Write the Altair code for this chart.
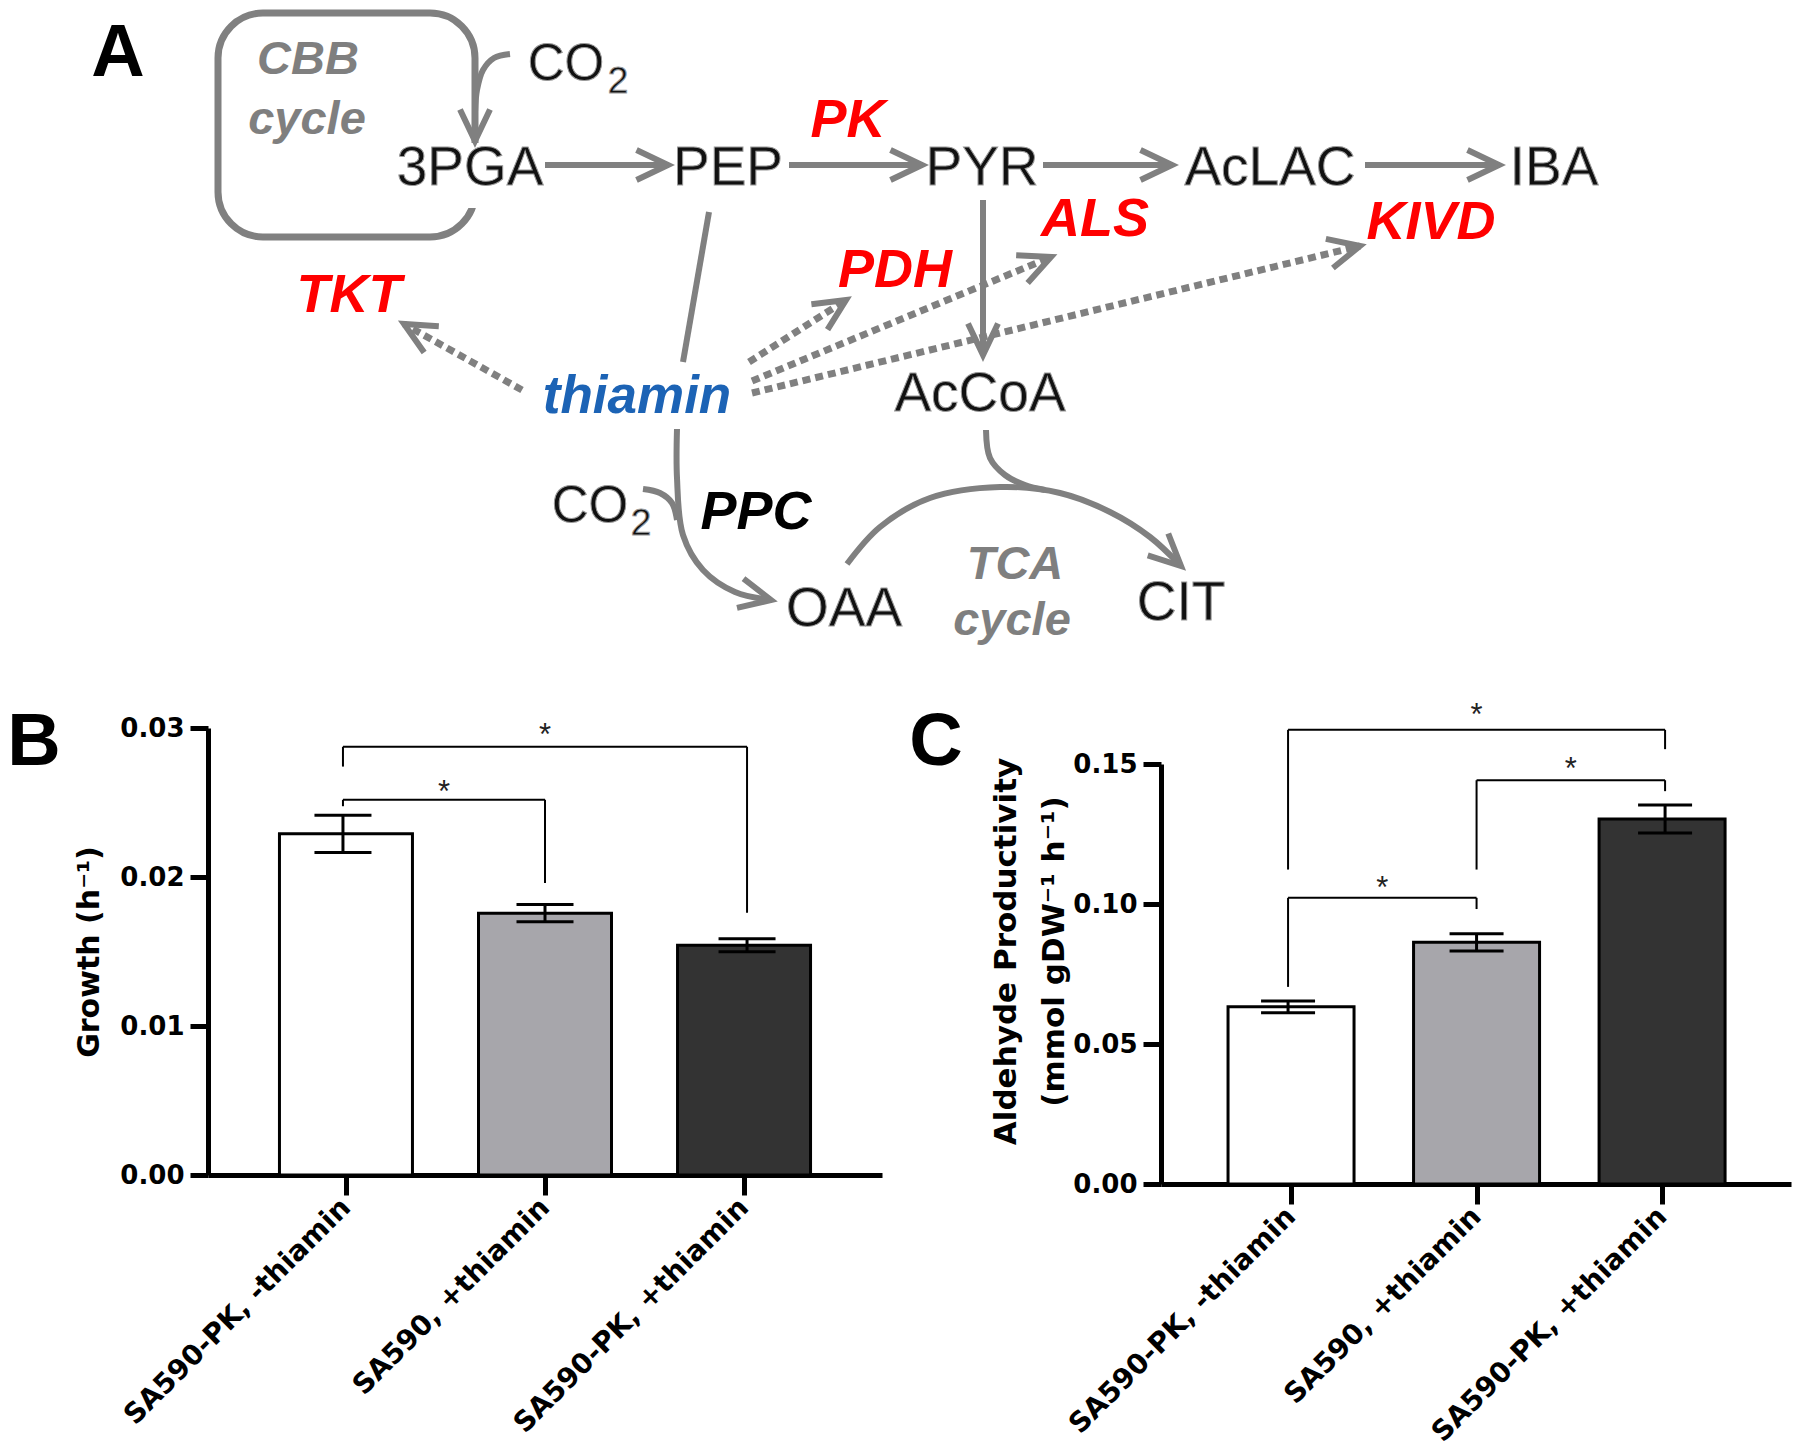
import json
import math
import altair as alt
import pandas as pd

W, H = 1784, 1440
GRAY = "#808080"
AX_FONT = "DejaVu Sans"
DIA_FONT = "Liberation Sans"
LETTER_FONT = "Liberation Sans Narrow, Liberation Sans, Arial"

# ---------------- Panels B and C : data ----------------
groups = ["SA590-PK, -thiamin", "SA590, +thiamin", "SA590-PK, +thiamin"]
group_pos = [1, 2, 3]
bar_fill = ["#FFFFFF", "#A7A6AB", "#333333"]

growth_mean = [0.0229, 0.01757, 0.01542]
growth_err = [0.00125, 0.00058, 0.00043]
growth_pair_left = [1, 1]
growth_pair_right = [2, 3]
growth_pair_y = [0.02518, 0.02874]
growth_pair_left_end = [0.02475, 0.02741]
growth_pair_right_end = [0.0196, 0.0176]
growth_star_y = [0.02625, 0.03007]
growth_ticks = [0.0, 0.01, 0.02, 0.03]

ald_mean = [0.0633, 0.0863, 0.1304]
ald_err = [0.0021, 0.0031, 0.0050]
ald_pair_left = [1, 2, 1]
ald_pair_right = [2, 3, 3]
ald_pair_y = [0.1022, 0.1442, 0.1622]
ald_pair_left_end = [0.0704, 0.1123, 0.1123]
ald_pair_right_end = [0.0982, 0.1403, 0.1553]
ald_star_y = [0.1084, 0.1509, 0.1703]
ald_ticks = [0.0, 0.05, 0.10, 0.15]

# ---------------- Panel A : diagram layout (figure pixels) ----------------
met_label = ["3PGA", "PEP", "PYR", "AcLAC", "IBA", "AcCoA", "OAA", "CIT", "CO", "CO"]
met_x = [470, 728, 982, 1270, 1554, 980, 844, 1181, 566, 590]
met_y = [185, 185, 185, 185, 185, 411, 626, 620, 80, 522]
met_size = [55, 55, 55, 55, 55, 55, 55, 55, 51, 51]
sub_label = ["2", "2"]
sub_x = [618, 641]
sub_y = [93, 535]

enz_label = ["PK", "ALS", "KIVD", "TKT", "PDH", "PPC"]
enz_x = [848, 1095, 1431, 349, 895, 756]
enz_y = [137, 236, 239, 312, 287, 529]
enz_color = ["#FF0000", "#FF0000", "#FF0000", "#FF0000", "#FF0000", "#000000"]

cof_label = ["thiamin"]
cof_x = [637]
cof_y = [413]

cyc_label = ["CBB", "cycle", "TCA", "cycle"]
cyc_x = [308, 307, 1015, 1012]
cyc_y = [74, 134, 579, 635]

letter_label = ["A", "B", "C"]
letter_x = [118, 34, 936]
letter_y = [76, 765, 765]

box_x = [218, 475]
box_y = [13, 237]
gap_x = [468, 482]
gap_y = [143, 208]

path_3pga_pep = [(545, 165), (668, 165)]
path_pep_pyr = [(789, 165), (922, 165)]
path_pyr_aclac = [(1043, 165), (1172, 165)]
path_aclac_iba = [(1365, 165), (1499, 165)]
path_pyr_accoa = [(983, 200), (983, 355)]
path_pep_down = [(709, 212), (683, 362)]
path_cbb_out = [(475, 112), (475, 141)]

curve_co2_top = [(510, 54), (494, 58), (483, 70), (477, 90), (475, 112)]
curve_pep_oaa = [(677, 429), (677, 478), (683, 535), (703, 570), (735, 592), (771, 600)]
curve_co2_low = [(643, 489), (660, 493), (672, 503), (677, 520)]
curve_oaa_cit = [(847, 564), (880, 527), (930, 498), (1000, 487), (1060, 493),
                 (1110, 512), (1150, 537), (1181, 566)]
curve_accoa = [(986, 430), (990, 458), (1005, 475), (1025, 485), (1045, 490)]

dot_tkt = [(522, 390), (404, 324)]
dot_pdh = [(749, 362), (846, 300)]
dot_als = [(752, 381), (1051, 257)]
dot_kivd = [(752, 393), (1360, 246)]

straight_paths = [("a1", path_3pga_pep, True), ("a2", path_pep_pyr, True),
                  ("a3", path_pyr_aclac, True), ("a4", path_aclac_iba, True),
                  ("a5", path_pyr_accoa, True), ("a6", path_pep_down, False),
                  ("a7", path_cbb_out, True)]
curve_paths = [("c1", curve_co2_top, False), ("c2", curve_pep_oaa, True),
               ("c3", curve_co2_low, False), ("c4", curve_oaa_cit, True),
               ("c5", curve_accoa, False)]
dot_paths = [("d1", dot_tkt, True), ("d2", dot_pdh, True),
             ("d3", dot_als, True), ("d4", dot_kivd, True)]

HEAD = "M-2.1,-1L0,0L-2.1,1"


def path_df(paths):
    rows = []
    for name, pts, _ in paths:
        for i, (x, y) in enumerate(pts):
            rows.append({"path": name, "i": i, "x": x, "y": y})
    return pd.DataFrame(rows)


def head_df(paths):
    rows = []
    for name, pts, has_head in paths:
        if not has_head:
            continue
        (x0, y0), (x1, y1) = pts[-2], pts[-1]
        ang = math.degrees(math.atan2(y1 - y0, x1 - x0)) % 360
        rows.append({"x": x1, "y": y1, "ang": ang})
    return pd.DataFrame(rows)


def dscale_x():
    return alt.Scale(domain=[8, 8 + W], range=[0, W], nice=False, zero=False)


def dscale_y():
    return alt.Scale(domain=[8, 8 + H], range=[0, H], nice=False, zero=False)


def DX(f):
    return alt.X(f, type="quantitative", scale=dscale_x(), axis=None)


def DY(f):
    return alt.Y(f, type="quantitative", scale=dscale_y(), axis=None)


box = alt.Chart(pd.DataFrame({"x": [box_x[0]], "x2": [box_x[1]], "y": [box_y[0]], "y2": [box_y[1]]})).mark_rect(
    fill="transparent", stroke=GRAY, strokeWidth=7, cornerRadius=45
).encode(x=DX("x"), x2=alt.X2("x2"), y=DY("y"), y2=alt.Y2("y2"))

gap = alt.Chart(pd.DataFrame({"x": [gap_x[0]], "x2": [gap_x[1]], "y": [gap_y[0]], "y2": [gap_y[1]]})).mark_rect(
    fill="white"
).encode(x=DX("x"), x2=alt.X2("x2"), y=DY("y"), y2=alt.Y2("y2"))

lines = alt.Chart(path_df(straight_paths)).mark_line(
    color=GRAY, strokeWidth=6, strokeCap="butt"
).encode(x=DX("x"), y=DY("y"), detail="path:N", order="i:Q")

curves = alt.Chart(path_df(curve_paths)).mark_line(
    color=GRAY, strokeWidth=6, strokeCap="butt", interpolate="catmull-rom"
).encode(x=DX("x"), y=DY("y"), detail="path:N", order="i:Q")

dots = alt.Chart(path_df(dot_paths)).mark_line(
    color=GRAY, strokeWidth=7, strokeDash=[8, 5], strokeCap="butt"
).encode(x=DX("x"), y=DY("y"), detail="path:N", order="i:Q")

heads = alt.Chart(pd.concat([head_df(straight_paths), head_df(curve_paths), head_df(dot_paths)])).mark_point(
    shape=HEAD, size=900, filled=False, stroke=GRAY, strokeWidth=6, opacity=1, strokeJoin="miter"
).encode(x=DX("x"), y=DY("y"), angle=alt.Angle("ang:Q", scale=None))

mets = alt.Chart(pd.DataFrame({"label": met_label, "x": met_x, "y": met_y, "size": met_size})).mark_text(
    font=DIA_FONT, align="center", baseline="alphabetic", fill="#111111", stroke="#9a9a9a", strokeWidth=1
).encode(x=DX("x"), y=DY("y"), text="label:N", size=alt.Size("size:Q", scale=None))

subs = alt.Chart(pd.DataFrame({"label": sub_label, "x": sub_x, "y": sub_y})).mark_text(
    font=DIA_FONT, align="center", baseline="alphabetic", fontSize=37, fill="#111111", stroke="#9a9a9a", strokeWidth=1
).encode(x=DX("x"), y=DY("y"), text="label:N")

enz = alt.Chart(pd.DataFrame({"label": enz_label, "x": enz_x, "y": enz_y, "c": enz_color})).mark_text(
    font=DIA_FONT, align="center", baseline="alphabetic", fontSize=54, fontWeight="bold", fontStyle="italic"
).encode(x=DX("x"), y=DY("y"), text="label:N", color=alt.Color("c:N", scale=None))

cof = alt.Chart(pd.DataFrame({"label": cof_label, "x": cof_x, "y": cof_y})).mark_text(
    font=DIA_FONT, align="center", baseline="alphabetic", fontSize=53, fontWeight="bold", fontStyle="italic",
    color="#1C63B5"
).encode(x=DX("x"), y=DY("y"), text="label:N")

cyc = alt.Chart(pd.DataFrame({"label": cyc_label, "x": cyc_x, "y": cyc_y})).mark_text(
    font=DIA_FONT, align="center", baseline="alphabetic", fontSize=47, fontWeight="bold", fontStyle="italic",
    color="#7F7F7F"
).encode(x=DX("x"), y=DY("y"), text="label:N")

letters = alt.Chart(pd.DataFrame({"label": letter_label, "x": letter_x, "y": letter_y})).mark_text(
    font=LETTER_FONT, align="center", baseline="alphabetic", fontSize=74, fontWeight="bold", color="black"
).encode(x=DX("x"), y=DY("y"), text="label:N")

diagram_layers = [box, gap, curves, lines, dots, heads, mets, subs, enz, cof, cyc, letters]

label_expr = json.dumps(groups) + "[datum.value - 1]"


def bar_panel(mean, err, pl, pr, py, pl_end, pr_end, star_y, ticks,
              x_rng, x_dom, y_rng, y_dom, bar_px, cap_px, title, title_x, title_y, title_size):
    def xs():
        return alt.Scale(domain=x_dom, range=x_rng, nice=False, zero=False)

    def ys():
        return alt.Scale(domain=y_dom, range=y_rng, nice=False, zero=False)

    xaxis = alt.Axis(
        orient="bottom", offset=y_rng[0] - H, values=group_pos, labelExpr=label_expr,
        labelAngle=-45, labelAlign="right", labelBaseline="middle", labelFont=AX_FONT,
        labelFontWeight="bold", labelFontSize=28, labelColor="black", labelPadding=8,
        labelLimit=0, labelFlush=False, labelOverlap=False, tickSize=20, tickWidth=5, tickColor="black",
        domainColor="black", domainWidth=5, grid=False, title=""
    )
    yaxis = alt.Axis(
        orient="left", offset=-x_rng[0], values=ticks, format=".2f", labelFont=AX_FONT,
        labelFontWeight="bold", labelFontSize=26, labelColor="black", labelPadding=6,
        labelLimit=0, labelFlush=False, labelOverlap=False, tickSize=18, tickWidth=5, tickColor="black",
        domainColor="black", domainWidth=5, grid=False,
        title=title, titleFont=AX_FONT, titleFontWeight="bold", titleFontSize=title_size,
        titleColor="black", titleAngle=270, titleAlign="center", titleBaseline="middle",
        titleX=title_x, titleY=title_y, titleLineHeight=48, titleLimit=0
    )
    bars_df = pd.DataFrame({"pos": group_pos, "mean": mean, "fill": bar_fill,
                            "lo": [m - e for m, e in zip(mean, err)],
                            "hi": [m + e for m, e in zip(mean, err)]})
    caps_df = pd.DataFrame({"pos": group_pos + group_pos,
                            "v": list(bars_df["lo"]) + list(bars_df["hi"])})
    seg = []
    for l, r, y, le, re_ in zip(pl, pr, py, pl_end, pr_end):
        seg.append({"x": l, "x2": l, "y": le, "y2": y})
        seg.append({"x": r, "x2": r, "y": re_, "y2": y})
        seg.append({"x": l, "x2": r, "y": y, "y2": y})
    seg_df = pd.DataFrame(seg)
    star_df = pd.DataFrame({"x": [(l + r) / 2 for l, r in zip(pl, pr)], "y": star_y})

    bars = alt.Chart(bars_df).mark_bar(size=bar_px, stroke="black", strokeWidth=3).encode(
        x=alt.X("pos:Q", scale=xs(), axis=xaxis),
        y=alt.Y("mean:Q", scale=ys(), axis=yaxis),
        fill=alt.Fill("fill:N", scale=None),
    )
    err_rule = alt.Chart(bars_df).mark_rule(color="black", strokeWidth=3).encode(
        x=alt.X("pos:Q", scale=xs(), axis=None), y=alt.Y("lo:Q", scale=ys(), axis=None), y2="hi:Q"
    )
    caps = alt.Chart(caps_df).mark_tick(orient="horizontal", size=cap_px, thickness=3, color="black",
                                        opacity=1).encode(
        x=alt.X("pos:Q", scale=xs(), axis=None), y=alt.Y("v:Q", scale=ys(), axis=None)
    )
    brackets = alt.Chart(seg_df).mark_rule(color="black", strokeWidth=2).encode(
        x=alt.X("x:Q", scale=xs(), axis=None), x2="x2:Q",
        y=alt.Y("y:Q", scale=ys(), axis=None), y2="y2:Q"
    )
    stars = alt.Chart(star_df).mark_text(text="*", font=DIA_FONT, fontSize=31, color="#222222",
                                         baseline="alphabetic", dy=18).encode(
        x=alt.X("x:Q", scale=xs(), axis=None), y=alt.Y("y:Q", scale=ys(), axis=None)
    )
    return [bars, err_rule, caps, brackets, stars]


panel_b = bar_panel(growth_mean, growth_err, growth_pair_left, growth_pair_right, growth_pair_y,
                    growth_pair_left_end, growth_pair_right_end, growth_star_y, growth_ticks,
                    x_rng=[200, 874], x_dom=[0.332, 3.668], y_rng=[1167, 720], y_dom=[0, 0.03],
                    bar_px=133, cap_px=57, title="Growth (h⁻¹)", title_x=-119, title_y=943.5,
                    title_size=30)

panel_c = bar_panel(ald_mean, ald_err, ald_pair_left, ald_pair_right, ald_pair_y,
                    ald_pair_left_end, ald_pair_right_end, ald_star_y, ald_ticks,
                    x_rng=[1153, 1783], x_dom=[0.326, 3.668], y_rng=[1176, 756], y_dom=[0, 0.15],
                    bar_px=126, cap_px=54,
                    title=["Aldehyde Productivity", "(mmol gDW⁻¹ h⁻¹)"],
                    title_x=-155, title_y=943, title_size=31)

chart = alt.layer(*diagram_layers, *panel_b, *panel_c).resolve_scale(
    x="independent", y="independent"
).properties(
    width=W, height=H, padding=0, autosize=alt.AutoSizeParams(type="none"), background="white"
).configure_view(strokeWidth=0)

chart.save("out.html", embed_options={"renderer": "svg", "actions": False})
